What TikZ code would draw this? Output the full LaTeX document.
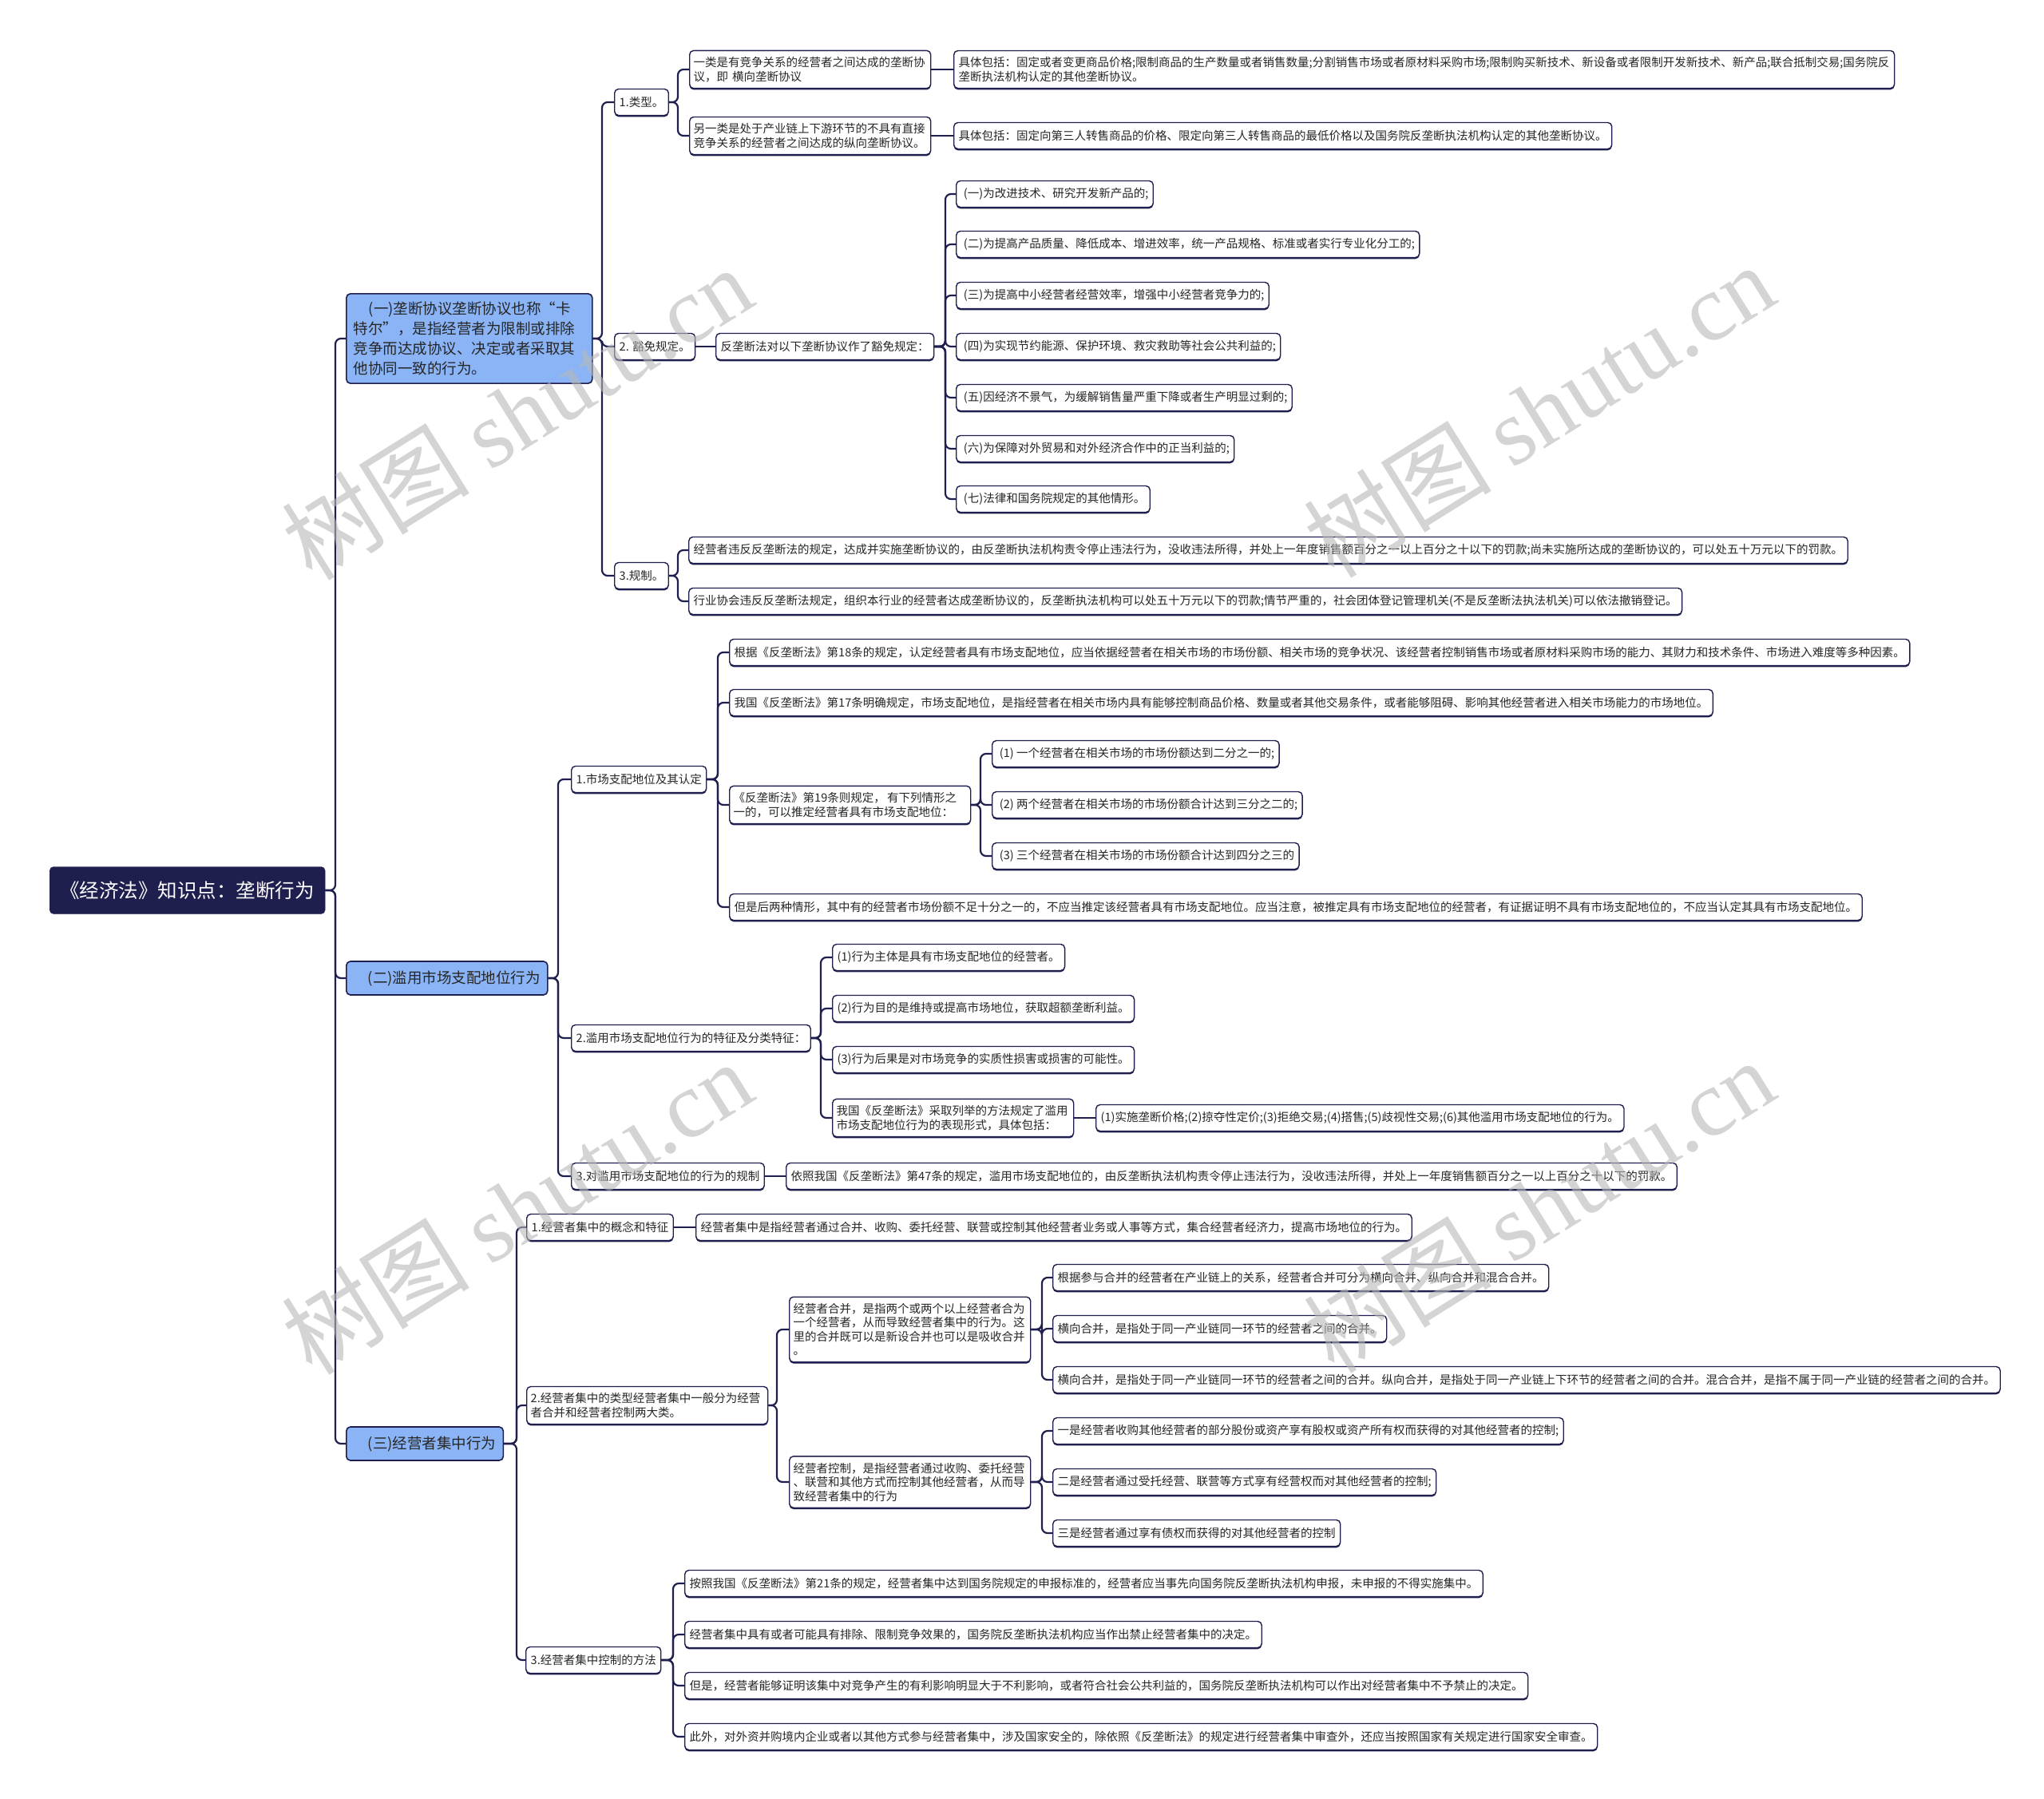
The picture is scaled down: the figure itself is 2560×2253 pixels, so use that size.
\documentclass[tikz,border=0pt]{standalone}
\usepackage{fontspec}
\setmainfont{Noto Sans CJK SC}
\newfontfamily\wmlatin{Liberation Serif}
\usetikzlibrary{shadows}
\definecolor{navy}{HTML}{1E1F4F}
\definecolor{lblue}{HTML}{8AB4F5}
\definecolor{wmgray}{HTML}{B8B8B8}
\tikzset{
  box/.style={draw=navy, line width=1.4pt, rounded corners=5pt, fill=white,
    font=\fontsize{14.5}{17.5}\selectfont, text=black!85, inner xsep=6pt, inner ysep=8pt,
    minimum height=33pt, anchor=west,
    drop shadow={shadow xshift=0pt, shadow yshift=-1.8pt, fill=navy, opacity=1}},
  wbox/.style={box, text width=#1, align=left, inner xsep=5pt},
  lone/.style={draw=navy, line width=1.6pt, rounded corners=5pt, fill=lblue,
    font=\fontsize{18.5}{25}\selectfont, text=black!85, anchor=west, inner xsep=9pt,
    inner ysep=6pt, minimum height=42pt},
  rootbox/.style={fill=navy, draw=navy, rounded corners=5pt, text=white,
    font=\fontsize{24.5}{28}\selectfont, anchor=west, minimum width=345pt, minimum height=59pt},
  link/.style={draw=navy, line width=2.2pt, rounded corners=7pt},
  wmark/.style={text=wmgray, opacity=0.6, rotate=32, font=\fontsize{118}{118}\selectfont}
}
\newcommand\mmlink[3]{\draw[link] (#1.east) -- (#1.east -| #3) |- (#2.west);}
\begin{document}
\begin{tikzpicture}[x=1pt,y=-1pt]
\useasboundingbox (0,0) rectangle (2560,2253);
\fill[white] (0,0) rectangle (2560,2253);
% trunk positions
\coordinate (t0) at (420,0);
\coordinate (t1) at (754,0);
\coordinate (t11) at (849,0);
\coordinate (t12) at (1184,0);
\coordinate (t2) at (699,0);
\coordinate (t21) at (899,0);
\coordinate (t211) at (1228,0);
\coordinate (t22) at (1028,0);
\coordinate (t3) at (647,0);
\coordinate (t32) at (973,0);
\coordinate (t321) at (1305,0);
\coordinate (t33) at (843,0);

\node[rootbox] (root) at (62,1115) {《经济法》知识点：垄断行为};
\node[lone, text width=290pt, align=left, inner ysep=10pt] (b1) at (433,424)
  {\hspace*{19pt}(一)垄断协议垄断协议也称“卡\\特尔”，是指经营者为限制或排除\\竞争而达成协议、决定或者采取其\\他协同一致的行为。};
\node[lone] (b2) at (433,1225) {\hspace*{18pt}(二)滥用市场支配地位行为};
\node[lone] (b3) at (433,1808) {\hspace*{18pt}(三)经营者集中行为};

% ---- branch 1
\node[box] (c1) at (769,128) {1.类型。};
\node[box] (c2) at (769,434) {2. 豁免规定。};
\node[box] (c3) at (769,721) {3.规制。};
\node[wbox=292pt] (a1) at (863,87) {一类是有竞争关系的经营者之间达成的垄断协\\议，即 横向垄断协议};
\node[wbox=292pt] (a2) at (863,170) {另一类是处于产业链上下游环节的不具有直接\\竞争关系的经营者之间达成的纵向垄断协议。};
\node[box, text width=1166pt, align=left] (d1) at (1194,87) {具体包括：固定或者变更商品价格;限制商品的生产数量或者销售数量;分割销售市场或者原材料采购市场;限制购买新技术、新设备或者限制开发新技术、新产品;联合抵制交易;国务院反\\垄断执法机构认定的其他垄断协议。};
\node[box] (d2) at (1194,170) {具体包括：固定向第三人转售商品的价格、限定向第三人转售商品的最低价格以及国务院反垄断执法机构认定的其他垄断协议。};
\node[box] (c2b) at (896,434) {反垄断法对以下垄断协议作了豁免规定：};
\node[box] (e1) at (1197,243) {\ (一)为改进技术、研究开发新产品的;};
\node[box] (e2) at (1197,306) {\ (二)为提高产品质量、降低成本、增进效率，统一产品规格、标准或者实行专业化分工的;};
\node[box] (e3) at (1197,370) {\ (三)为提高中小经营者经营效率，增强中小经营者竞争力的;};
\node[box] (e4) at (1197,434) {\ (四)为实现节约能源、保护环境、救灾救助等社会公共利益的;};
\node[box] (e5) at (1197,498) {\ (五)因经济不景气，为缓解销售量严重下降或者生产明显过剩的;};
\node[box] (e6) at (1197,562) {\ (六)为保障对外贸易和对外经济合作中的正当利益的;};
\node[box] (e7) at (1197,625) {\ (七)法律和国务院规定的其他情形。};
\node[box] (r1) at (862,689) {经营者违反反垄断法的规定，达成并实施垄断协议的，由反垄断执法机构责令停止违法行为，没收违法所得，并处上一年度销售额百分之一以上百分之十以下的罚款;尚未实施所达成的垄断协议的，可以处五十万元以下的罚款。};
\node[box] (r2) at (862,753) {行业协会违反反垄断法规定，组织本行业的经营者达成垄断协议的，反垄断执法机构可以处五十万元以下的罚款;情节严重的，社会团体登记管理机关(不是反垄断法执法机关)可以依法撤销登记。};

% ---- branch 2
\node[box] (s1) at (715,976) {1.市场支配地位及其认定};
\node[box] (s2) at (715,1300) {2.滥用市场支配地位行为的特征及分类特征：};
\node[box] (s3) at (715,1473) {3.对滥用市场支配地位的行为的规制};
\node[box] (p1) at (913,817) {根据《反垄断法》第18条的规定，认定经营者具有市场支配地位，应当依据经营者在相关市场的市场份额、相关市场的竞争状况、该经营者控制销售市场或者原材料采购市场的能力、其财力和技术条件、市场进入难度等多种因素。};
\node[box] (p2) at (913,880) {我国《反垄断法》第17条明确规定，市场支配地位，是指经营者在相关市场内具有能够控制商品价格、数量或者其他交易条件，或者能够阻碍、影响其他经营者进入相关市场能力的市场地位。};
\node[wbox=292pt] (p3) at (913,1008) {《反垄断法》第19条则规定，\,有下列情形之\\一的，可以推定经营者具有市场支配地位：};
\node[box] (p4) at (913,1136) {但是后两种情形，其中有的经营者市场份额不足十分之一的，不应当推定该经营者具有市场支配地位。应当注意，被推定具有市场支配地位的经营者，有证据证明不具有市场支配地位的，不应当认定其具有市场支配地位。};
\node[box] (q1) at (1242,944) {\ (1) 一个经营者在相关市场的市场份额达到二分之一的;};
\node[box] (q2) at (1242,1008) {\ (2) 两个经营者在相关市场的市场份额合计达到三分之二的;};
\node[box] (q3) at (1242,1072) {\ (3) 三个经营者在相关市场的市场份额合计达到四分之三的};
\node[box] (u1) at (1042,1199) {(1)行为主体是具有市场支配地位的经营者。};
\node[box] (u2) at (1042,1263) {(2)行为目的是维持或提高市场地位，获取超额垄断利益。};
\node[box] (u3) at (1042,1327) {(3)行为后果是对市场竞争的实质性损害或损害的可能性。};
\node[wbox=292pt] (u4) at (1042,1400) {我国《反垄断法》采取列举的方法规定了滥用\\市场支配地位行为的表现形式，具体包括：};
\node[box] (v1) at (1372,1400) {(1)实施垄断价格;(2)掠夺性定价;(3)拒绝交易;(4)搭售;(5)歧视性交易;(6)其他滥用市场支配地位的行为。};
\node[box] (w1) at (984,1473) {依照我国《反垄断法》第47条的规定，滥用市场支配地位的，由反垄断执法机构责令停止违法行为，没收违法所得，并处上一年度销售额百分之一以上百分之十以下的罚款。};

% ---- branch 3
\node[box] (x1) at (659,1537) {1.经营者集中的概念和特征};
\node[box] (x1b) at (871,1537) {经营者集中是指经营者通过合并、收购、委托经营、联营或控制其他经营者业务或人事等方式，集合经营者经济力，提高市场地位的行为。};
\node[wbox=292pt] (x2) at (659,1760) {2.经营者集中的类型经营者集中一般分为经营\\者合并和经营者控制两大类。};
\node[wbox=292pt] (y1) at (988,1665) {经营者合并，是指两个或两个以上经营者合为\\一个经营者，从而导致经营者集中的行为。这\\里的合并既可以是新设合并也可以是吸收合并\\。};
\node[wbox=292pt] (y2) at (988,1856) {经营者控制，是指经营者通过收购、委托经营\\、联营和其他方式而控制其他经营者，从而导\\致经营者集中的行为};
\node[box] (z1) at (1318,1600) {根据参与合并的经营者在产业链上的关系，经营者合并可分为横向合并、纵向合并和混合合并。};
\node[box] (z2) at (1318,1664) {横向合并，是指处于同一产业链同一环节的经营者之间的合并。};
\node[box] (z3) at (1318,1728) {横向合并，是指处于同一产业链同一环节的经营者之间的合并。纵向合并，是指处于同一产业链上下环节的经营者之间的合并。混合合并，是指不属于同一产业链的经营者之间的合并。};
\node[box] (z4) at (1318,1792) {一是经营者收购其他经营者的部分股份或资产享有股权或资产所有权而获得的对其他经营者的控制;};
\node[box] (z5) at (1318,1856) {二是经营者通过受托经营、联营等方式享有经营权而对其他经营者的控制;};
\node[box] (z6) at (1318,1920) {三是经营者通过享有债权而获得的对其他经营者的控制};
\node[box] (x3) at (658,2079) {3.经营者集中控制的方法};
\node[box] (k1) at (857,1983) {按照我国《反垄断法》第21条的规定，经营者集中达到国务院规定的申报标准的，经营者应当事先向国务院反垄断执法机构申报，未申报的不得实施集中。};
\node[box] (k2) at (857,2047) {经营者集中具有或者可能具有排除、限制竞争效果的，国务院反垄断执法机构应当作出禁止经营者集中的决定。};
\node[box] (k3) at (857,2111) {但是，经营者能够证明该集中对竞争产生的有利影响明显大于不利影响，或者符合社会公共利益的，国务院反垄断执法机构可以作出对经营者集中不予禁止的决定。};
\node[box] (k4) at (857,2175) {此外，对外资并购境内企业或者以其他方式参与经营者集中，涉及国家安全的，除依照《反垄断法》的规定进行经营者集中审查外，还应当按照国家有关规定进行国家安全审查。};

% ---- connectors
\foreach \c in {b1,b2,b3} {\mmlink{root}{\c}{t0}}
\foreach \c in {c1,c2,c3} {\mmlink{b1}{\c}{t1}}
\foreach \c in {a1,a2} {\mmlink{c1}{\c}{t11}}
\draw[link] (a1.east) -- (d1.west);
\draw[link] (a2.east) -- (d2.west);
\draw[link] (c2.east) -- (c2b.west);
\foreach \c in {e1,e2,e3,e4,e5,e6,e7} {\mmlink{c2b}{\c}{t12}}
\foreach \c in {r1,r2} {\mmlink{c3}{\c}{t11}}
\foreach \c in {s1,s2,s3} {\mmlink{b2}{\c}{t2}}
\foreach \c in {p1,p2,p3,p4} {\mmlink{s1}{\c}{t21}}
\foreach \c in {q1,q2,q3} {\mmlink{p3}{\c}{t211}}
\foreach \c in {u1,u2,u3,u4} {\mmlink{s2}{\c}{t22}}
\draw[link] (u4.east) -- (v1.west);
\draw[link] (s3.east) -- (w1.west);
\foreach \c in {x1,x2,x3} {\mmlink{b3}{\c}{t3}}
\draw[link] (x1.east) -- (x1b.west);
\foreach \c in {y1,y2} {\mmlink{x2}{\c}{t32}}
\foreach \c in {z1,z2,z3} {\mmlink{y1}{\c}{t321}}
\foreach \c in {z4,z5,z6} {\mmlink{y2}{\c}{t321}}
\foreach \c in {k1,k2,k3,k4} {\mmlink{x3}{\c}{t33}}

% ---- watermarks
\node[wmark] (wm1) at (647,517) {树图 {\wmlatin shutu.cn}};
\node[wmark] (wm2) at (1927,514) {树图 {\wmlatin shutu.cn}};
\node[wmark] (wm3) at (647,1512) {树图 {\wmlatin shutu.cn}};
\node[wmark] (wm4) at (1927,1510) {树图 {\wmlatin shutu.cn}};
\end{tikzpicture}
\end{document}
